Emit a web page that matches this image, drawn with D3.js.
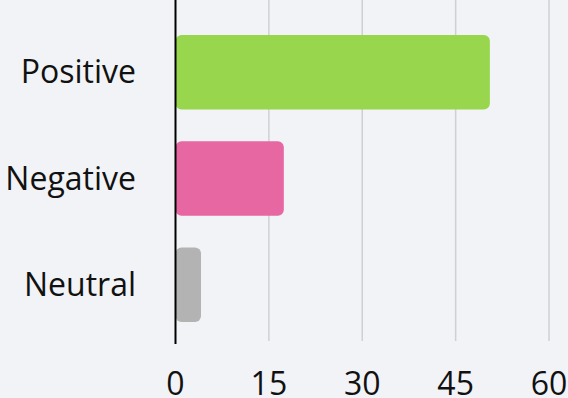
<!DOCTYPE html>
<html><head><meta charset="utf-8">
<script src="https://cdn.jsdelivr.net/npm/d3@7"></script>
<style>html,body{margin:0;padding:0;background:#f2f3f7;}svg{display:block;}</style>
</head><body><svg id="c" width="568" height="398"></svg>
<script>
const categories = ["Positive", "Negative", "Neutral"];
const values = [50.5, 17.4, 4.1];
const colors = ["#98d64e", "#e667a1", "#b3b3b3"];
const ticks = [0, 15, 30, 45, 60];

const svg = d3.select("#c");
const x = d3.scaleLinear().domain([0, 60]).range([175.5, 549]);
const y = d3.scaleBand().domain(categories).range([0, 357]).paddingInner(0.3).paddingOuter(0.33);
const font = "'Open Sans', 'Noto Sans', sans-serif";

svg.append("g").selectAll("line").data(ticks.slice(1)).join("line")
  .attr("x1", d => x(d)).attr("x2", d => x(d)).attr("y1", 0).attr("y2", 341)
  .attr("stroke", "#d0d0d3").attr("stroke-width", 1.5);

svg.append("g").selectAll("rect").data(categories).join("rect")
  .attr("x", x(0)).attr("y", d => y(d))
  .attr("width", (d, i) => x(values[i]) - x(0)).attr("height", y.bandwidth())
  .attr("rx", 6).attr("fill", (d, i) => colors[i]);

svg.append("line").attr("x1", x(0)).attr("x2", x(0)).attr("y1", 0).attr("y2", 344)
  .attr("stroke", "#000").attr("stroke-width", 2);

svg.append("g").selectAll("text").data(categories).join("text")
  .attr("x", 136).attr("y", d => y(d) + y.bandwidth() / 2).attr("dy", "0.35em")
  .attr("text-anchor", "end").attr("font-family", font).attr("font-size", 32).attr("fill", "#111")
  .text(d => d);

svg.append("g").selectAll("text").data(ticks).join("text")
  .attr("x", d => x(d)).attr("y", 394.5).attr("text-anchor", "middle")
  .attr("font-family", font).attr("font-size", 32).attr("fill", "#111")
  .text(d => d);
</script></body></html>
